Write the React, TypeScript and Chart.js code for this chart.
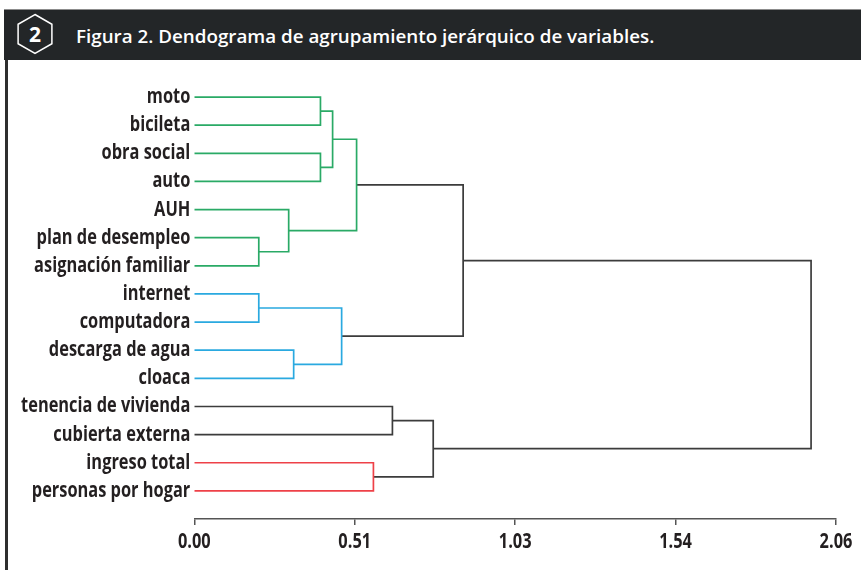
import React, { useEffect, useRef } from "react";
import { Chart, registerables } from "chart.js";

Chart.register(...registerables);

// Leaves from top to bottom
const leaves = [
  "moto",
  "bicileta",
  "obra social",
  "auto",
  "AUH",
  "plan de desempleo",
  "asignación familiar",
  "internet",
  "computadora",
  "descarga de agua",
  "cloaca",
  "tenencia de vivienda",
  "cubierta externa",
  "ingreso total",
  "personas por hogar",
];

// Linkage: node ids 0..14 are leaves, merge i creates node 15 + i
const mergeLeft = [0, 2, 5, 7, 9, 15, 4, 13, 11, 18, 20, 22, 25, 27];
const mergeRight = [1, 3, 6, 8, 10, 16, 17, 14, 12, 19, 21, 23, 24, 26];
const mergeHeight = [0.405, 0.405, 0.207, 0.207, 0.319, 0.444, 0.303, 0.575, 0.636, 0.473, 0.521, 0.767, 0.863, 1.98];
const mergeGroup = ["green", "green", "green", "blue", "blue", "green", "green", "red", "black", "blue", "green", "black", "black", "black"];

const xTickValues = [0, 0.515, 1.03, 1.545, 2.06];
const xTickLabels = ["0.00", "0.51", "1.03", "1.54", "2.06"];

const groupColors: Record<string, string> = {
  green: "#2aaa66",
  blue: "#2aa9e0",
  red: "#ee4148",
  black: "#3c3c3c",
};

const labelFont = {
  family: "'Open Sans', sans-serif",
  size: 21,
  weight: "bold" as const,
};

const CONDENSE = 0.78;

// Draws the scale's own label items with a horizontal condensation (condensed typeface look)
function condensedDrawLabels(this: any, chartArea: any) {
  const ctx: CanvasRenderingContext2D = this.ctx;
  const items = this.getLabelItems(chartArea);
  for (const item of items) {
    const o = item.options;
    ctx.save();
    ctx.translate(o.translation[0], o.translation[1]);
    ctx.scale(CONDENSE, 1);
    ctx.font = item.font.string;
    ctx.fillStyle = o.color;
    ctx.textAlign = o.textAlign;
    ctx.textBaseline = o.textBaseline;
    const lines = Array.isArray(item.label) ? item.label : [item.label];
    let y = item.textOffset;
    for (const line of lines) {
      ctx.fillText(String(line), 0, y);
      y += item.font.lineHeight;
    }
    ctx.restore();
  }
}

const condensePlugin = {
  id: "condenseLabels",
  beforeDraw(chart: any) {
    Object.values(chart.scales).forEach((s: any) => {
      s.drawLabels = condensedDrawLabels;
    });
  },
};

function buildDatasets() {
  const n = leaves.length;
  const nodeY: number[] = leaves.map((_, i) => i);
  const nodeH: number[] = leaves.map(() => 0);
  const datasets: any[] = [];
  for (let i = 0; i < mergeLeft.length; i++) {
    const a = mergeLeft[i];
    const b = mergeRight[i];
    const h = mergeHeight[i];
    const ya = nodeY[a];
    const yb = nodeY[b];
    nodeY[n + i] = (ya + yb) / 2;
    nodeH[n + i] = h;
    datasets.push({
      data: [
        { x: nodeH[a], y: ya },
        { x: h, y: ya },
        { x: h, y: yb },
        { x: nodeH[b], y: yb },
      ],
      showLine: true,
      fill: false,
      borderColor: groupColors[mergeGroup[i]],
      borderWidth: 1.7,
      pointRadius: 0,
      tension: 0,
      borderJoinStyle: "miter",
      borderCapStyle: "butt",
    });
  }
  return datasets;
}

export default function App() {
  const canvasRef = useRef<HTMLCanvasElement | null>(null);

  useEffect(() => {
    if (!canvasRef.current) return;
    const chart = new Chart(canvasRef.current, {
      type: "scatter",
      data: { datasets: buildDatasets() },
      plugins: [condensePlugin],
      options: {
        animation: false,
        responsive: false,
        devicePixelRatio: 1,
        layout: { padding: { top: 68.9, right: 23, bottom: 0, left: 0 } },
        plugins: { legend: { display: false }, tooltip: { enabled: false } },
        scales: {
          x: {
            type: "linear",
            min: 0,
            max: 2.06,
            afterBuildTicks: (s: any) => {
              s.ticks = xTickValues.map((v) => ({ value: v }));
            },
            afterFit: (s: any) => {
              s.height = 51;
            },
            ticks: {
              callback: (_v: any, i: number) => xTickLabels[i],
              font: labelFont,
              color: "#231f20",
              padding: 4,
              maxRotation: 0,
              autoSkip: false,
            },
            grid: {
              display: true,
              drawOnChartArea: false,
              drawTicks: true,
              tickLength: 6,
              color: "#555555",
              lineWidth: 1.5,
            },
            border: { display: true, color: "#555555", width: 1.5 },
          },
          y: {
            type: "linear",
            reverse: true,
            min: -1,
            max: 15,
            afterBuildTicks: (s: any) => {
              s.ticks = leaves.map((_, i) => ({ value: i }));
            },
            afterFit: (s: any) => {
              s.width = 194.3;
            },
            ticks: {
              callback: (v: any) => leaves[Number(v)],
              font: labelFont,
              color: "#231f20",
              padding: 4,
              autoSkip: false,
            },
            grid: { display: false, drawTicks: false },
            border: { display: false },
          },
        },
      } as any,
    });
    return () => chart.destroy();
  }, []);

  return (
    <div
      style={{
        position: "fixed",
        left: 0,
        top: 0,
        width: 861,
        height: 570,
        background: "#ffffff",
        overflow: "hidden",
      }}
    >
      <canvas
        ref={canvasRef}
        width={861}
        height={570}
        style={{ position: "absolute", left: 0, top: 0, width: 861, height: 570 }}
      />
      <div
        style={{
          position: "absolute",
          left: 4,
          top: 9,
          width: 857,
          height: 51,
          background: "#232628",
          borderTop: "1px solid #8c8c8c",
          boxSizing: "border-box",
        }}
      />
      <svg
        width={70}
        height={60}
        style={{ position: "absolute", left: 0, top: 0 }}
      >
        <polygon
          points="35,14.5 51.9,24.25 51.9,43.75 35,53.5 18.1,43.75 18.1,24.25"
          fill="none"
          stroke="#ffffff"
          strokeWidth={1.5}
        />
        <text
          x={35}
          y={42}
          textAnchor="middle"
          fill="#ffffff"
          style={{ font: "bold 21px 'Open Sans', sans-serif" }}
        >
          2
        </text>
      </svg>
      <div
        style={{
          position: "absolute",
          left: 76,
          top: 22.7,
          lineHeight: "26px",
          color: "#ffffff",
          font: "600 18.8px 'Open Sans', sans-serif",
          whiteSpace: "nowrap",
        }}
      >
        Figura 2. Dendograma de agrupamiento jerárquico de variables.
      </div>
      <div
        style={{
          position: "absolute",
          left: 5,
          top: 60,
          width: 3,
          height: 510,
          background: "#2e2e2e",
        }}
      />
    </div>
  );
}
